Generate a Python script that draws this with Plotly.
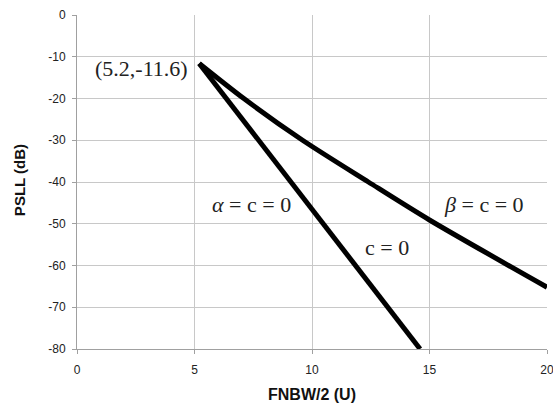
import plotly.graph_objects as go

# Data
c0_x = [5.2, 10.0, 14.6]
c0_y = [-11.6, -46.4, -80.0]

beta_x = [5.2, 7.1, 9.6, 12.4, 15.0, 20.0]
beta_y = [-11.6, -20.0, -30.0, -40.0, -49.1, -65.2]

x_ticks = [0, 5, 10, 15, 20]
y_ticks = [0, -10, -20, -30, -40, -50, -60, -70, -80]

fig = go.Figure()
fig.add_trace(go.Scatter(x=c0_x, y=c0_y, mode="lines",
                         line=dict(color="black", width=5), showlegend=False))
fig.add_trace(go.Scatter(x=beta_x, y=beta_y, mode="lines",
                         line=dict(color="black", width=5, shape="spline", smoothing=0.8),
                         showlegend=False))

serif = dict(family="Liberation Serif, Times New Roman, serif", size=22, color="#222222")
fig.add_annotation(x=5.2, y=-11.6, text="(5.2,-11.6)", showarrow=False,
                   xanchor="right", yanchor="middle", xshift=-9, yshift=-5, font=serif)
fig.add_annotation(x=9.18, y=-45.5, text="<i>α</i> = c = 0", showarrow=False,
                   xanchor="right", yanchor="middle", font=serif)
fig.add_annotation(x=13.2, y=-55.6, text="c = 0", showarrow=False,
                   xanchor="center", yanchor="middle", font=serif)
fig.add_annotation(x=17.3, y=-45.5, text="<i>β</i> = c = 0", showarrow=False,
                   xanchor="center", yanchor="middle", font=serif)

fig.add_annotation(xref="paper", yref="paper", x=-0.121, y=0.506, text="<b>PSLL (dB)</b>",
                   textangle=-90, showarrow=False, xanchor="center", yanchor="middle",
                   font=dict(family="Liberation Sans, Arial, sans-serif", size=15, color="#111111"))
fig.add_annotation(xref="paper", yref="paper", x=0.5, y=-0.135, text="<b>FNBW/2 (U)</b>",
                   showarrow=False, xanchor="center", yanchor="middle",
                   font=dict(family="Liberation Sans, Arial, sans-serif", size=16, color="#111111"))

tickfont = dict(family="Liberation Sans, Arial, sans-serif", size=12, color="#222222")
fig.update_xaxes(range=[0, 20], tickvals=x_ticks, ticktext=[str(v) for v in x_ticks],
                 showgrid=True, gridcolor="#c8c8c8", gridwidth=1,
                 showline=True, linecolor="#a0a0a0", linewidth=1,
                 ticks="outside", ticklen=4, tickcolor="#a0a0a0",
                 tickfont=tickfont, zeroline=False, ticklabelstandoff=6,
                 ticklabeloverflow="allow", automargin=False)
fig.update_yaxes(range=[-80, 0], tickvals=y_ticks, ticktext=[str(v) for v in y_ticks],
                 showgrid=True, gridcolor="#c8c8c8", gridwidth=1,
                 showline=True, linecolor="#a0a0a0", linewidth=1,
                 ticks="outside", ticklen=4, tickcolor="#a0a0a0",
                 tickfont=tickfont, zeroline=False, ticklabelstandoff=4,
                 automargin=False)

fig.update_layout(width=553, height=410, margin=dict(l=77, r=6, t=15, b=61, autoexpand=False),
                  plot_bgcolor="white", paper_bgcolor="white")

fig.write_html("out.html")
